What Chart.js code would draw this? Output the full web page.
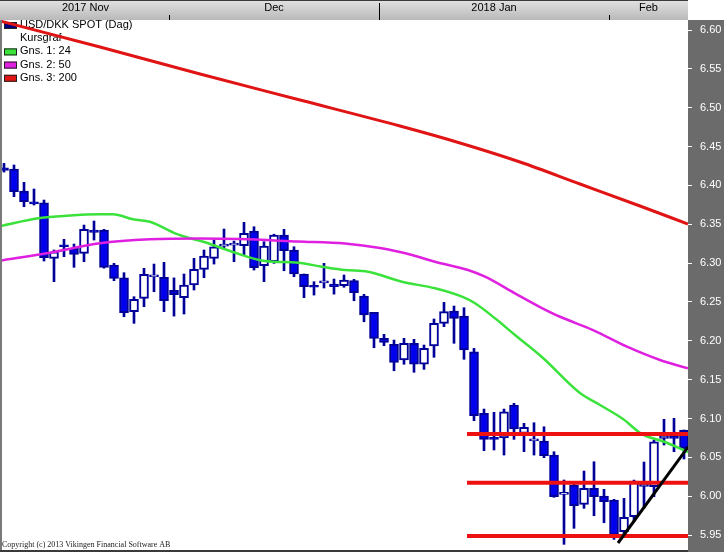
<!DOCTYPE html>
<html>
<head>
<meta charset="utf-8">
<script src="https://cdn.jsdelivr.net/npm/chart.js@4.4.1/dist/chart.umd.min.js"></script>
<style>
  html, body { margin: 0; padding: 0; background: #fff; }
  #wrap { width: 724px; height: 552px; }
</style>
</head>
<body>
<div id="wrap"><canvas id="kursgraf" width="724" height="552"></canvas></div>
<script>
// ===== USD/DKK SPOT (Dag) - kursgraf med glidende gennemsnit =====

// Handelsdage: indeks 0 .. 68 (nov 2017 - feb 2018)
const maaneder = ['2017 Nov', 'Dec', '2018 Jan', 'Feb'];
const maanedStart = [0, 17, 38, 61];

const aabning = [
    6.4228, 6.4211, 6.3928, 6.3790, 6.3777, 6.3062, 6.3233, 6.3190, 6.3126, 6.3426,
    6.3426, 6.2976, 6.2812, 6.2375, 6.2547, 6.2823, 6.2817, 6.2649, 6.2557, 6.2718,
    6.2920, 6.3062, 6.3218, 6.3231, 6.3224, 6.3413, 6.2967, 6.3018, 6.3362, 6.3169,
    6.2860, 6.2709, 6.2746, 6.2730, 6.2710, 6.2774, 6.2577, 6.2367, 6.2032, 6.1955,
    6.1753, 6.1968, 6.1698, 6.1933, 6.2225, 6.2384, 6.2319, 6.1860, 6.1067, 6.0753,
    6.0752, 6.1174, 6.0809, 6.0712, 6.0710, 6.0530, 6.0024, 6.0144, 5.9896, 6.0102,
    6.0003, 5.9951, 5.9543, 5.9736, 6.0127, 6.0122, 6.0745, 6.0766, 6.0852
];
const hoej = [
    6.4284, 6.4263, 6.4040, 6.3954, 6.3812, 6.3169, 6.3306, 6.3246, 6.3490, 6.3542,
    6.3435, 6.2997, 6.2877, 6.2568, 6.2933, 6.2988, 6.3010, 6.2810, 6.2860, 6.3062,
    6.3169, 6.3297, 6.3439, 6.3284, 6.3525, 6.3469, 6.3276, 6.3372, 6.3435, 6.3211,
    6.2860, 6.2761, 6.2997, 6.2795, 6.2847, 6.2791, 6.2598, 6.2367, 6.2084, 6.2010,
    6.2032, 6.2019, 6.1946, 6.2281, 6.2495, 6.2448, 6.2426, 6.1903, 6.1122, 6.1080,
    6.1122, 6.1196, 6.0938, 6.0946, 6.0894, 6.0573, 6.0209, 6.0166, 6.0324, 6.0444,
    6.0089, 5.9960, 5.9973, 6.0208, 6.0440, 6.0723, 6.0990, 6.1003, 6.0852
];
const lav = [
    6.4172, 6.3855, 6.3726, 6.3748, 6.3027, 6.2761, 6.3083, 6.2946, 6.3018, 6.3297,
    6.2935, 6.2774, 6.2310, 6.2225, 6.2439, 6.2632, 6.2375, 6.2318, 6.2345, 6.2654,
    6.2812, 6.2988, 6.3190, 6.3018, 6.3104, 6.2911, 6.2761, 6.2997, 6.2902, 6.2825,
    6.2555, 6.2589, 6.2680, 6.2601, 6.2689, 6.2516, 6.2245, 6.1911, 6.1937, 6.1615,
    6.1698, 6.1595, 6.1633, 6.1788, 6.2182, 6.1968, 6.1762, 6.0972, 6.0586, 6.0595,
    6.0530, 6.0732, 6.0573, 6.0530, 6.0496, 5.9986, 5.9381, 5.9587, 5.9844, 5.9749,
    5.9659, 5.9445, 5.9479, 5.9672, 5.9848, 5.9994, 6.0659, 6.0573, 6.0479
];
const luk = [
    6.4194, 6.3919, 6.3790, 6.3761, 6.3070, 6.3147, 6.3211, 6.3113, 6.3435, 6.3396,
    6.2946, 6.2804, 6.2362, 6.2534, 6.2856, 6.2827, 6.2516, 6.2593, 6.2718, 6.2920,
    6.3091, 6.3211, 6.3222, 6.3235, 6.3384, 6.2941, 6.3220, 6.3362, 6.3160, 6.2860,
    6.2696, 6.2689, 6.2750, 6.2696, 6.2782, 6.2619, 6.2332, 6.2032, 6.1981, 6.1723,
    6.1968, 6.1698, 6.1903, 6.2225, 6.2375, 6.2290, 6.1882, 6.1036, 6.0732, 6.0732,
    6.1087, 6.0865, 6.0887, 6.0716, 6.0521, 5.9994, 6.0050, 5.9878, 6.0102, 5.9994,
    5.9929, 5.9501, 5.9728, 6.0196, 6.0161, 6.0701, 6.0779, 6.0745, 6.0620
];

// Glidende gennemsnit aflaest i graf (position = handelsdag-indeks)
const gns1Pos = [-0.4, 3.6, 6.3, 9.6, 10.9, 12.9, 14.6, 17.1, 18.1, 20.1, 22.8, 26.1, 29.4, 31.8, 34.1,
    36.4, 39.8, 43.1, 45.8, 47.1, 49.1, 51.1, 53.9, 57.6, 59.6, 61.9, 63.8, 66.1, 68.4];
const gns1 = [6.3477, 6.3580, 6.3610, 6.3628, 6.3628, 6.3564, 6.3533, 6.3384, 6.3340, 6.3268, 6.3147,
    6.3027, 6.3005, 6.2954, 6.2911, 6.2889, 6.2761, 6.2676, 6.2568, 6.2483, 6.2290, 6.2075, 6.1779,
    6.1328, 6.1174, 6.0994, 6.0800, 6.0698, 6.0569];

const gns2Pos = [-0.4, 4.6, 9.6, 14.6, 19.6, 23.6, 29.4, 34.1, 37.6, 40.8, 43.1, 46.4, 48.1, 51.1,
    53.6, 55.6, 58.9, 62.3, 65.6, 68.4];
const gns2 = [6.3031, 6.3134, 6.3255, 6.3306, 6.3317, 6.3310, 6.3278, 6.3252, 6.3194, 6.3104, 6.3018,
    6.2911, 6.2825, 6.2611, 6.2435, 6.2310, 6.2139, 6.1924, 6.1753, 6.1646];

const gns3Pos = [-0.4, 9.6, 19.6, 29.6, 39.6, 45.6, 51.6, 57.6, 63.6, 68.4];
const gns3 = [6.6116, 6.5781, 6.5434, 6.5099, 6.4764, 6.4546, 6.4301, 6.4018, 6.3735, 6.3503];

// Vandrette stoette/modstand-linjer og trendlinje
const niveauer = [6.0800, 6.0174, 5.9488];
const niveauFra = 46.3;
const trendPos = [61.4, 68.4];
const trendVal = [5.9398, 6.0633];

const legendeTekst = ['USD/DKK SPOT (Dag)', 'Kursgraf', 'Gns. 1: 24', 'Gns. 2: 50', 'Gns. 3: 200'];

const FARVE = {
    op: '#ffffff', ned: '#0000ee', kant: '#000099',
    gns1: '#3be23b', gns2: '#e020e0', gns3: '#e01414',
    niveau: '#ee1111', trend: '#000000'
};
const legendeFarve = ['#000080', null, FARVE.gns1, FARVE.gns2, FARVE.gns3];

const xMin = -0.2, xMax = 68.4;
const yMin = 5.9308, yMax = 6.6129;
const FONT = '"Liberation Sans", Arial, sans-serif';

const maanedMidte = maaneder.map((m, k) => {
    const fra = k === 0 ? xMin : maanedStart[k] - 0.5;
    const til = k === maaneder.length - 1 ? xMax : maanedStart[k + 1] - 0.5;
    return (fra + til) / 2;
});

const punkter = (pos, val) => pos.map((p, k) => ({ x: p, y: val[k] }));

// ingen ekstra luft omkring akserne - plottet skal fylde helt ud
const nulPadding = s => {
    s.paddingLeft = 0; s.paddingRight = 0; s.paddingTop = 0; s.paddingBottom = 0;
};

// Baggrund, hoved og ramme
const rammePlugin = {
    id: 'ramme',
    beforeDraw(chart) {
        const { ctx, chartArea: a, width, height } = chart;
        ctx.save();
        ctx.fillStyle = '#ffffff';
        ctx.fillRect(0, 0, width, height);
        const g = ctx.createLinearGradient(0, 0, 0, a.top);
        g.addColorStop(0, '#e2e2e2');
        g.addColorStop(1, '#b9b9b9');
        ctx.fillStyle = g;
        ctx.fillRect(0, 0, a.right, a.top);
        ctx.fillStyle = '#3c3c3c';
        ctx.fillRect(0, 0, a.right, 1);
        ctx.fillStyle = '#6b6b6b';
        ctx.fillRect(a.right, a.top, width - a.right, height - a.top);
        ctx.restore();
    },
    beforeDatasetsDraw(chart) {
        const { ctx, chartArea: a } = chart;
        ctx.save();
        ctx.font = '11px ' + FONT;
        ctx.textBaseline = 'middle';
        legendeTekst.forEach((t, n) => {
            const y = a.top + 5 + n * 13.2;
            if (legendeFarve[n]) {
                ctx.fillStyle = legendeFarve[n];
                ctx.fillRect(4, y - 3, 13, 7);
                ctx.strokeStyle = '#202020';
                ctx.lineWidth = 1;
                ctx.strokeRect(4.5, y - 2.5, 12, 6);
            }
            ctx.fillStyle = '#000';
            ctx.fillText(t, 20, y);
        });
        ctx.restore();
    },
    afterDraw(chart) {
        const { ctx, chartArea: a, height } = chart;
        const xs = chart.scales.x;
        ctx.save();
        // maanedsskift i hovedet
        ctx.fillStyle = '#000';
        maanedStart.slice(1).forEach((s, k) => {
            const px = Math.round(xs.getPixelForValue(s - 0.5));
            const nytAar = /^\d{4}/.test(maaneder[k + 1]);
            const top = nytAar ? 3 : a.top - 5;
            ctx.fillRect(px, top, 1, a.top - top);
        });
        // ramme venstre og bund
        ctx.fillStyle = '#7a7a7a';
        ctx.fillRect(0, a.top, 2, height - a.top);
        ctx.fillStyle = '#3a3a3a';
        ctx.fillRect(0, a.bottom, a.right, height - a.bottom);
        // copyright
        ctx.fillStyle = '#222';
        ctx.font = '8px "Liberation Serif", "Times New Roman", serif';
        ctx.textBaseline = 'middle';
        ctx.fillText('Copyright (c) 2013 Vikingen Financial Software AB', 2, a.bottom - 5);
        ctx.restore();
    }
};

const lysestager = aabning.map((o, i) => ({ x: i, y: [o, luk[i]] }));
const vaeger = aabning.map((o, i) => ({ x: i, y: [lav[i], hoej[i]] }));
const bodyFarve = aabning.map((o, i) => (luk[i] < o ? FARVE.ned : FARVE.op));

const datasets = [
    {
        type: 'line', label: 'Trend', data: punkter(trendPos, trendVal),
        borderColor: FARVE.trend, borderWidth: 3, pointRadius: 0, order: 1
    },
    ...niveauer.map(v => ({
        type: 'line', label: 'Niveau ' + v, data: [{ x: niveauFra, y: v }, { x: xMax, y: v }],
        borderColor: FARVE.niveau, borderWidth: 4, pointRadius: 0, order: 2
    })),
    {
        type: 'line', label: legendeTekst[4], data: punkter(gns3Pos, gns3),
        borderColor: FARVE.gns3, borderWidth: 3, pointRadius: 0, cubicInterpolationMode: 'monotone', order: 3
    },
    {
        type: 'line', label: legendeTekst[3], data: punkter(gns2Pos, gns2),
        borderColor: FARVE.gns2, borderWidth: 2.5, pointRadius: 0, cubicInterpolationMode: 'monotone', order: 3
    },
    {
        type: 'line', label: legendeTekst[2], data: punkter(gns1Pos, gns1),
        borderColor: FARVE.gns1, borderWidth: 2.5, pointRadius: 0, cubicInterpolationMode: 'monotone', order: 3
    },
    {
        type: 'bar', label: legendeTekst[1], data: lysestager,
        backgroundColor: bodyFarve, borderColor: FARVE.kant, borderWidth: 2,
        borderSkipped: false, barThickness: 9, minBarLength: 2, grouped: false, order: 5
    },
    {
        type: 'bar', label: 'Vaege', data: vaeger,
        backgroundColor: FARVE.kant, borderWidth: 0, barThickness: 2, grouped: false, order: 6
    }
];

new Chart(document.getElementById('kursgraf'), {
    type: 'bar',
    data: { datasets },
    options: {
        responsive: false,
        animation: false,
        devicePixelRatio: 1,
        layout: { padding: { left: 2, right: 0, top: 0, bottom: 2 } },
        plugins: { legend: { display: false }, tooltip: { enabled: false } },
        scales: {
            x: { type: 'linear', min: xMin, max: xMax, display: false, offset: false },
            x2: {
                type: 'linear', position: 'top', min: xMin, max: xMax, offset: false,
                afterBuildTicks: s => { s.ticks = maanedMidte.map(v => ({ value: v })); },
                afterFit: s => { s.height = 20; nulPadding(s); },
                grid: { display: false, drawTicks: false },
                border: { display: false },
                ticks: {
                    autoSkip: false, maxRotation: 0, padding: 5, color: '#000',
                    font: { family: FONT, size: 11 },
                    callback: (v, idx) => maaneder[idx]
                }
            },
            y: {
                position: 'right', min: yMin, max: yMax,
                afterFit: s => { s.width = 36; nulPadding(s); },
                grid: { drawOnChartArea: false, drawTicks: true, tickLength: 4, color: '#ffffff' },
                border: { display: false },
                ticks: {
                    stepSize: 0.05, includeBounds: false, padding: 8, color: '#ffffff',
                    font: { family: FONT, size: 11 },
                    callback: v => v.toFixed(2)
                }
            }
        }
    },
    plugins: [rammePlugin]
});
</script>
</body>
</html>
